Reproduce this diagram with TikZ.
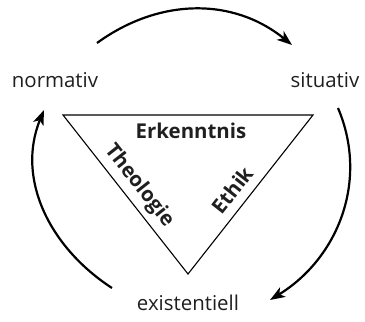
\documentclass[tikz,border=0pt]{standalone}
\usepackage{fontspec}
\setmainfont{Open Sans}
\usetikzlibrary{arrows.meta}
\begin{document}
\begin{tikzpicture}[x=1bp,y=-1bp,
  lbl/.style={font=\fontsize{20.5}{22}\selectfont, text=black!88, inner sep=0pt},
  blbl/.style={font=\fontsize{20.5}{22}\selectfont\bfseries, text=black!88, inner sep=0pt},
  arr/.style={line width=2.2bp, -{Stealth[length=15bp,width=11bp,inset=4bp]}},
  tri/.style={line width=1.1bp}]
\useasboundingbox (0,0) rectangle (365,322);
\node[lbl] (n) at (55,80) {normativ};
\node[lbl] (s) at (325,80) {situativ};
\node[lbl] (e) at (188,303) {existentiell};
\coordinate (t1) at (63,115);
\coordinate (t2) at (313,115);
\coordinate (t3) at (188,274);
\draw[tri] (t1) -- (t2) -- (t3) -- cycle;
\node[blbl] (er) at (191,131) {Erkenntnis};
\node[blbl, rotate=-51.8] (th) at (139,186) {Theologie};
\node[blbl, rotate=51.8] (et) at (232,190) {Ethik};
\coordinate (a1s) at (97,43);
\coordinate (a1e) at (292,45);
\coordinate (a2s) at (338,108);
\coordinate (a2e) at (270,300);
\coordinate (a3s) at (112,288);
\coordinate (a3e) at (44,110);
\draw[arr] (a1s) to[out=36,in=141] (a1e);
\draw[arr] (a2s) to[out=-67,in=31.6] (a2e);
\draw[arr] (a3s) to[out=147,in=247.7] (a3e);
\end{tikzpicture}
\end{document}
